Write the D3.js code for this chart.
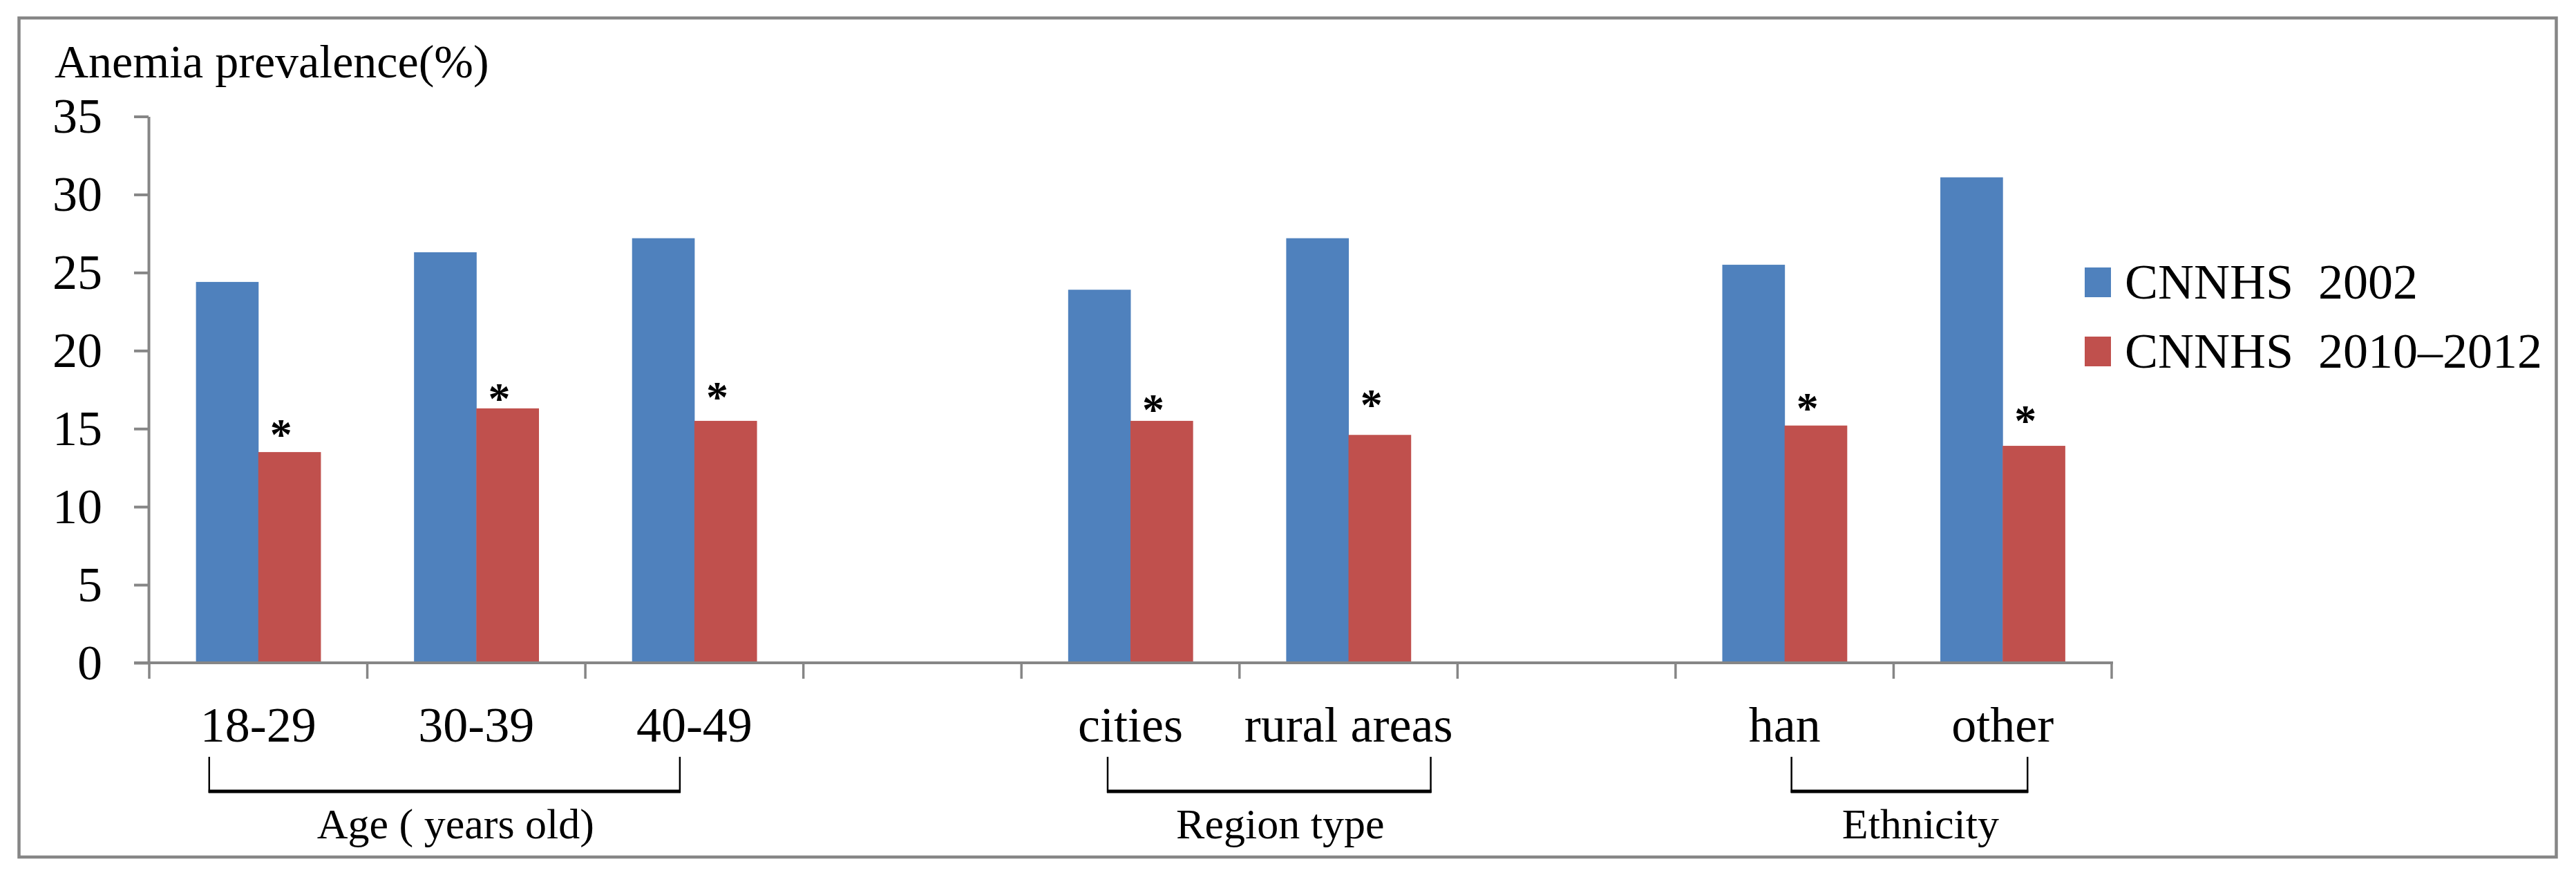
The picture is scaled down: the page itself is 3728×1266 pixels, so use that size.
<!DOCTYPE html>
<html><head><meta charset="utf-8">
<script src="https://cdn.jsdelivr.net/npm/d3@7"></script>
<style>html,body{margin:0;padding:0;background:#fff;}svg{display:block;}</style>
</head><body>
<script>
// ---- data ----
const categories = ["18-29", "30-39", "40-49", "", "cities", "rural areas", "", "han", "other"];
const seriesNames = ["CNNHS 2002", "CNNHS 2010\u20132012"];
const values2002 = [24.4, 26.3, 27.2, null, 23.9, 27.2, null, 25.5, 31.1];
const values2010 = [13.5, 16.3, 15.5, null, 15.5, 14.6, null, 15.2, 13.9];
const starLevel = [15.1, 17.4, 17.5, null, 16.7, 17.0, null, 16.8, 16.0]; // asterisk height (data units)
const yTicks = [0, 5, 10, 15, 20, 25, 30, 35];
const yTitle = "Anemia prevalence(%)";
const groups = [
  {label: "Age ( years old)", from: 0, to: 2},
  {label: "Region type", from: 4, to: 5},
  {label: "Ethnicity", from: 7, to: 8}
];

// ---- layout ----
const W = 3728, H = 1266;
const colors = ["#4F81BD", "#C0504D"];
const gray = "#868686";
const font = "'Liberation Serif','Times New Roman',Times,serif";

const svg = d3.select("body").append("svg").attr("width", W).attr("height", H)
  .style("background", "#fff");

svg.append("rect").attr("x", 27.5).attr("y", 26).attr("width", 3672).attr("height", 1214)
  .attr("fill", "#fff").attr("stroke", gray).attr("stroke-width", 4.5);

const x = d3.scaleBand().domain(d3.range(categories.length)).range([216, 3056]).padding(0);
const y = d3.scaleLinear().domain([0, 35]).range([959, 168.5]);
const step = x.step();
const bw = step / 3.5;          // Excel gap width 150%
const gOff = (step - 2 * bw) / 2;

// bars
const series = [values2002, values2010];
series.forEach((vals, s) => {
  svg.append("g").selectAll("rect")
    .data(vals.map((v, i) => ({v, i})).filter(d => d.v != null))
    .join("rect")
    .attr("x", d => x(d.i) + gOff + s * bw)
    .attr("y", d => y(d.v))
    .attr("width", bw + 0.5)
    .attr("height", d => y(0) - y(d.v))
    .attr("fill", colors[s]);
});

// asterisks
const starSize = 64;
svg.append("g").selectAll("text")
  .data(starLevel.map((v, i) => ({v, i})).filter(d => d.v != null))
  .join("text")
  .attr("x", d => x(d.i) + gOff + bw * 1.5 - 12)
  .attr("y", d => y(d.v) + 0.5 * starSize)
  .attr("text-anchor", "middle")
  .attr("font-family", font).attr("font-size", starSize).attr("font-weight", "bold")
  .attr("fill", "#000").text("*");

// y axis
const yAxis = svg.append("g").attr("transform", "translate(215,0)")
  .call(d3.axisLeft(y).tickValues(yTicks).tickSize(21).tickSizeOuter(0).tickPadding(46));
yAxis.select(".domain").attr("stroke", gray).attr("stroke-width", 4);
yAxis.selectAll(".tick line").attr("stroke", gray).attr("stroke-width", 4);
yAxis.selectAll(".tick text").attr("font-family", font).attr("font-size", 72).attr("fill", "#000");

// x axis line & boundary ticks
const xb = svg.append("g");
xb.append("line").attr("x1", 194).attr("x2", x.range()[1] + 2).attr("y1", y(0)).attr("y2", y(0))
  .attr("stroke", gray).attr("stroke-width", 4);
const bounds = categories.map((c, i) => x(i)).concat([x.range()[1]]);
xb.selectAll("line.t").data(bounds).join("line").attr("class", "t")
  .attr("x1", d => d).attr("x2", d => d).attr("y1", y(0)).attr("y2", y(0) + 23)
  .attr("stroke", gray).attr("stroke-width", 3.5);

// category labels
svg.append("g").selectAll("text").data(categories.map((c, i) => ({c, i})).filter(d => d.c))
  .join("text")
  .attr("x", d => x(d.i) + step / 2).attr("y", 1073)
  .attr("text-anchor", "middle").attr("font-family", font).attr("font-size", 72)
  .attr("fill", "#000").text(d => d.c);

// brackets
const bracketAdj = [[-71, -21], [-33, 119], [10, 36]];
groups.forEach((g, k) => {
  const x1 = x(g.from) + step / 2 + bracketAdj[k][0];
  const x2 = x(g.to) + step / 2 + bracketAdj[k][1];
  const top = 1095, bot = 1147;
  svg.append("line").attr("x1", x1).attr("x2", x1).attr("y1", top).attr("y2", bot)
    .attr("stroke", "#000").attr("stroke-width", 2.5);
  svg.append("line").attr("x1", x2).attr("x2", x2).attr("y1", top).attr("y2", bot)
    .attr("stroke", "#000").attr("stroke-width", 2.5);
  svg.append("line").attr("x1", x1 - 1).attr("x2", x2 + 1).attr("y1", bot - 2).attr("y2", bot - 2)
    .attr("stroke", "#000").attr("stroke-width", 5);
  svg.append("text").attr("x", (x1 + x2) / 2 + 16).attr("y", 1213)
    .attr("text-anchor", "middle").attr("font-family", font).attr("font-size", 62)
    .attr("fill", "#000").text(g.label);
});

// y title
svg.append("text").attr("x", 79).attr("y", 112).attr("font-family", font).attr("font-size", 68)
  .attr("fill", "#000").text(yTitle);

// legend
const lg = svg.append("g");
seriesNames.forEach((n, s) => {
  lg.append("rect").attr("x", 3017).attr("y", 387 + s * 100).attr("width", 38).attr("height", 43)
    .attr("fill", colors[s]);
  lg.append("text").attr("x", 3075).attr("y", 432 + s * 100).attr("font-family", font)
    .attr("font-size", 72).attr("fill", "#000").text(n.replace(" ", "\u00a0\u00a0"));
});
</script>
</body></html>
